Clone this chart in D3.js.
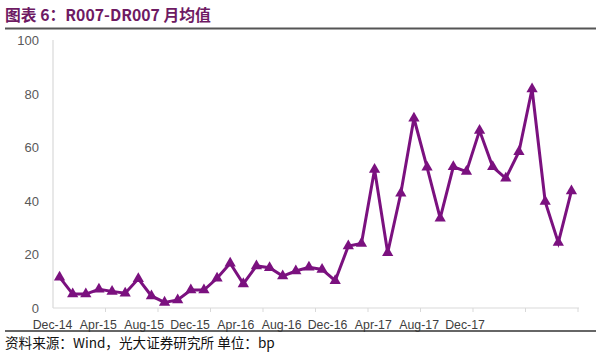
<!DOCTYPE html>
<html>
<head>
<meta charset="utf-8">
<script src="https://cdn.jsdelivr.net/npm/d3@7"></script>
<style>
  body { margin: 0; background: #fff; }
  svg { font-family: "Liberation Sans", Arial, sans-serif; }
</style>
</head>
<body>
<div id="container"></div>
<script>
let w = 600;
let h = 354;

// DATA (monthly, Dec-14 .. Mar-18)
let values = [11.5, 5.2, 5.2, 7.0, 6.2, 5.5, 10.9, 4.5, 2.1, 3.0,
              6.7, 6.7, 11.1, 16.7, 9.0, 15.7, 15.0, 11.9, 13.8, 15.2,
              14.4, 10.2, 23.1, 24.1, 51.7, 20.6, 42.8, 70.8, 52.5, 33.5,
              52.7, 50.9, 66.2, 52.7, 48.4, 58.3, 81.7, 39.7, 24.4, 43.7];
let tickLabels = ["Dec-14", "Apr-15", "Aug-15", "Dec-15", "Apr-16",
                  "Aug-16", "Dec-16", "Apr-17", "Aug-17", "Dec-17"];
let yTicks = [0, 20, 40, 60, 80, 100];

let viz = d3.select("#container").append("svg")
    .attr("width", w)
    .attr("height", h)
;

// title
viz.append("text")
    .attr("x", 5).attr("y", 21)
    .attr("fill", "#6e1a63")
    .attr("font-size", 15.8)
    .attr("font-weight", "bold")
    .attr("font-family", "'Noto Sans CJK SC', 'Liberation Sans', sans-serif")
    .text("图表 6：R007-DR007 月均值");
viz.append("line")
    .attr("x1", 5).attr("x2", 596).attr("y1", 28.5).attr("y2", 28.5)
    .attr("stroke", "#555").attr("stroke-width", 2);

// SCALES
let xScale = d3.scaleLinear().domain([-0.5, values.length - 0.5]).range([53, 578]);
let yScale = d3.scaleLinear().domain([0, 100]).range([308, 40]);
let labelScale = d3.scalePoint().domain(tickLabels).range([52.5, 465]);

// axes
viz.append("line")
    .attr("x1", 53).attr("x2", 53).attr("y1", yScale(100)).attr("y2", yScale(0))
    .attr("stroke", "#d9d9d9").attr("stroke-width", 1.2);
viz.append("line")
    .attr("x1", 53).attr("x2", 579).attr("y1", yScale(0)).attr("y2", yScale(0))
    .attr("stroke", "#d9d9d9").attr("stroke-width", 1.2);

viz.selectAll(".ylab").data(yTicks).enter()
  .append("text")
    .attr("class", "ylab")
    .attr("x", 39)
    .attr("y", d => yScale(d) + 5)
    .attr("text-anchor", "end")
    .attr("font-size", 13)
    .attr("fill", "#595959")
    .text(d => d);

// tick marks every 4 months (between categories)
let tickIdx = d3.range(3.5, values.length, 4);
viz.selectAll(".xtick").data(tickIdx).enter()
  .append("line")
    .attr("x1", d => xScale(d)).attr("x2", d => xScale(d))
    .attr("y1", yScale(0)).attr("y2", yScale(0) + 4)
    .attr("stroke", "#d9d9d9");

viz.selectAll(".xlab").data(tickLabels).enter()
  .append("text")
    .attr("x", d => labelScale(d))
    .attr("y", 329)
    .attr("text-anchor", "middle")
    .attr("font-size", 12.3)
    .attr("fill", "#404040")
    .text(d => d);

// line
let lineMaker = d3.line()
    .x((d, i) => xScale(i))
    .y(d => yScale(d));

viz.append("path")
    .datum(values)
    .attr("d", lineMaker)
    .attr("fill", "none")
    .attr("stroke", "#7b117f")
    .attr("stroke-width", 3)
    .attr("stroke-linejoin", "miter");

let tri = d3.symbol().type(d3.symbolTriangle).size(55);
viz.selectAll(".pt").data(values).enter()
  .append("path")
    .attr("d", tri)
    .attr("transform", (d, i) => "translate(" + xScale(i) + "," + yScale(d) + ")")
    .attr("fill", "#7b117f");

// footer
viz.append("line")
    .attr("x1", 5).attr("x2", 596).attr("y1", 331).attr("y2", 331)
    .attr("stroke", "#333").attr("stroke-width", 1.5);
viz.append("text")
    .attr("x", 5).attr("y", 348)
    .attr("font-size", 13.6)
    .attr("fill", "#111")
    .attr("font-family", "'Noto Sans CJK SC', 'Liberation Sans', sans-serif")
    .text("资料来源：Wind，光大证券研究所 单位：bp");
</script>
</body>
</html>
